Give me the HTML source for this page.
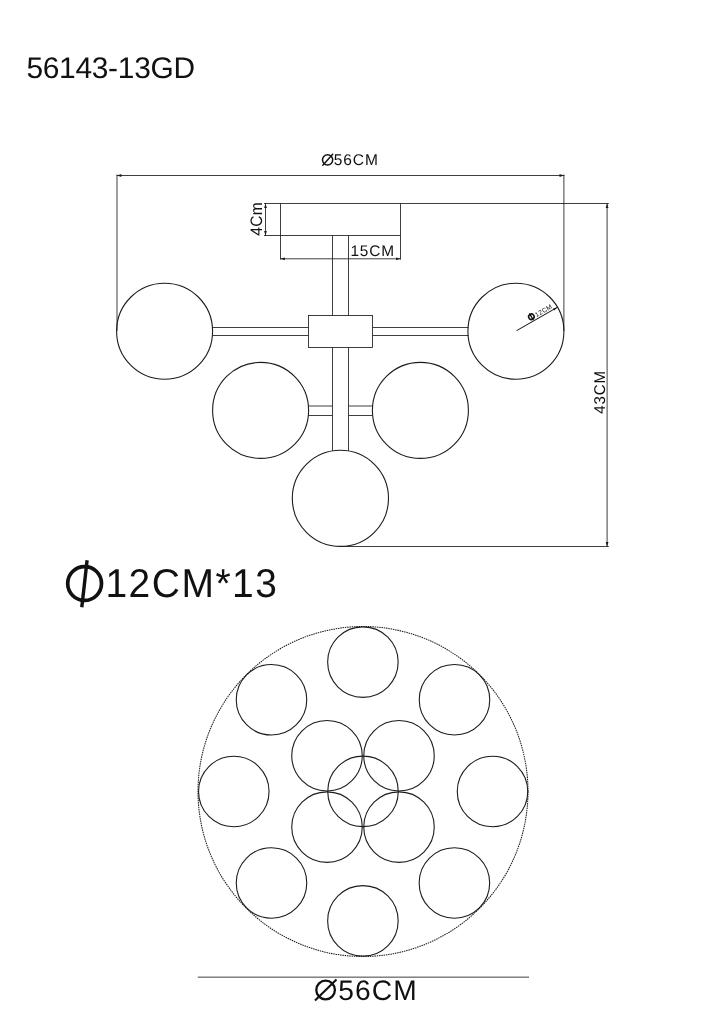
<!DOCTYPE html>
<html>
<head>
<meta charset="utf-8">
<style>
html,body{margin:0;padding:0;background:#fff;}
body{width:724px;height:1024px;overflow:hidden;}
svg{display:block;}
text{font-family:"Liberation Sans",sans-serif;fill:#111;text-rendering:geometricPrecision;}

.l{stroke:#1c1c1c;stroke-width:0.85;fill:none;}
.c{stroke:#1c1c1c;stroke-width:1.1;fill:none;}
.a{fill:#1a1a1a;stroke:none;}
</style>
</head>
<body>
<div style="will-change:transform;transform:translateZ(0);width:724px;height:1024px"><svg width="724" height="1024" viewBox="0 0 724 1024">
<rect width="724" height="1024" fill="#fff"/>

<!-- title -->
<text x="26.4" y="77.6" font-size="29.9" letter-spacing="-0.28">56143-13GD</text>

<!-- top dimension 56CM -->
<circle cx="327.6" cy="159.8" r="5.1" fill="none" stroke="#111" stroke-width="1.5"/><path d="M322.4 165.8L333.1 153.8" stroke="#111" stroke-width="1.4" fill="none"/>
<text x="333.8" y="164.9" font-size="15.5" letter-spacing="0.9">56CM</text>
<path class="l" d="M116.6 175.5H564.3"/>
<path class="l" d="M117 174.6V331"/>
<path class="l" d="M563.9 174.6V331"/>
<path class="a" d="M117 175.5l4.4 -1.4v2.8z"/>
<path class="a" d="M563.9 175.5l-4.4 -1.4v2.8z"/>

<!-- canopy -->
<path class="l" d="M264 203.5H608.8"/>
<path class="l" d="M264 235.5H400.5"/>
<path class="l" d="M280.5 203.5V259.6"/>
<path class="l" d="M400.5 203.5V259.6"/>
<!-- 4Cm dim -->
<path class="l" d="M265.5 203.5V235.5"/>
<path class="a" d="M265.5 203.5l-1.4 4.4h2.8z"/>
<path class="a" d="M265.5 235.5l-1.4 -4.4h2.8z"/>
<text transform="translate(262 235.7) rotate(-90) scale(0.935 1)" font-size="16.6" letter-spacing="0.3">4Cm</text>
<!-- 15CM dim -->
<path class="l" d="M280.5 258.8H400.5"/>
<path class="a" d="M280.5 258.8l4.4 -1.4v2.8z"/>
<path class="a" d="M400.5 258.8l-4.4 -1.4v2.8z"/>
<text x="350.4" y="256.3" font-size="15.4" letter-spacing="0.9">15CM</text>

<!-- stem -->
<path class="l" d="M332.5 235.5V315.5M348.5 235.5V315.5"/>
<path class="l" d="M332.5 347.5V451M348.5 347.5V451"/>
<!-- center box -->
<rect class="l" x="308.5" y="315.5" width="64" height="32"/>
<!-- arms -->
<path class="l" d="M212.5 327.5H308.5M212.5 335.5H308.5"/>
<path class="l" d="M372.5 327.5H468.5M372.5 335.5H468.5"/>
<path class="l" d="M308.5 406H332.5M308.5 415.5H332.5"/>
<path class="l" d="M348.5 406H372.5M348.5 415.5H372.5"/>
<!-- globes -->
<circle class="c" cx="164.6" cy="331.2" r="48"/>
<circle class="c" cx="515.9" cy="331.2" r="48"/>
<circle class="c" cx="260.6" cy="410.4" r="48"/>
<circle class="c" cx="420.4" cy="410.4" r="48"/>
<circle class="c" cx="340.4" cy="498.3" r="48.1"/>
<!-- radius line -->
<g transform="translate(516.6 330.6) rotate(-29.7)">
<path d="M0 0H46.8" stroke="#111" stroke-width="1" fill="none"/>
<path d="M46.8 0l-4.2 -1.1v2.2z" fill="#111"/>
<circle cx="19.7" cy="-4.7" r="2.75" fill="none" stroke="#111" stroke-width="1.55"/>
<path d="M19.7 -8.6V-0.8" stroke="#111" stroke-width="1.3" fill="none"/>
<text x="24" y="-1.8" font-size="6.6" letter-spacing="0.3">12CM</text>
</g>

<!-- 43CM dim -->
<path class="l" d="M340.4 546.5H608.8"/>
<path class="l" d="M607.1 203.5V546.5"/>
<path class="a" d="M607.1 203.5l-1.4 4.4h2.8z"/>
<path class="a" d="M607.1 546.5l-1.4 -4.4h2.8z"/>
<text transform="translate(604.8 413.8) rotate(-90) scale(0.97 1)" font-size="15.6" letter-spacing="0.9">43CM</text>

<!-- heading -->
<circle cx="84.6" cy="583.5" r="16.9" fill="none" stroke="#111" stroke-width="3.7"/>
<path d="M87.1 560.2L81.8 607.3" stroke="#111" stroke-width="3.4" fill="none"/>
<text transform="translate(105.4 597.3) scale(0.97 1)" font-size="40.2" letter-spacing="1.55">12CM*13</text>

<!-- bottom view -->
<circle cx="363" cy="791.5" r="165" fill="none" stroke="#1c1c1c" stroke-width="1.05" stroke-dasharray="1.5 0.8"/>
<g class="c">
<circle cx="363" cy="791.4" r="35.25"/>
<circle cx="327" cy="755.7" r="35.25"/>
<circle cx="399" cy="755.7" r="35.25"/>
<circle cx="327" cy="827.1" r="35.25"/>
<circle cx="399" cy="827.1" r="35.25"/>
<circle cx="362.9" cy="662.1" r="35.25"/>
<circle cx="362.9" cy="920.9" r="35.25"/>
<circle cx="233.8" cy="791.45" r="35.25"/>
<circle cx="492.5" cy="791.45" r="35.25"/>
<circle cx="271.5" cy="699.8" r="35.25"/>
<circle cx="454.5" cy="699.8" r="35.25"/>
<circle cx="271.5" cy="883" r="35.25"/>
<circle cx="454.4" cy="883" r="35.25"/>
</g>
<path class="l" d="M197.8 977.15H529"/>
<circle cx="325.6" cy="990" r="9.3" fill="none" stroke="#111" stroke-width="2.3"/><path d="M315 1000.5L336.5 979.6" stroke="#111" stroke-width="2.1" fill="none"/>
<text x="338.3" y="1000.1" font-size="28.2" letter-spacing="1.1">56CM</text>
</svg></div>
</body>
</html>
